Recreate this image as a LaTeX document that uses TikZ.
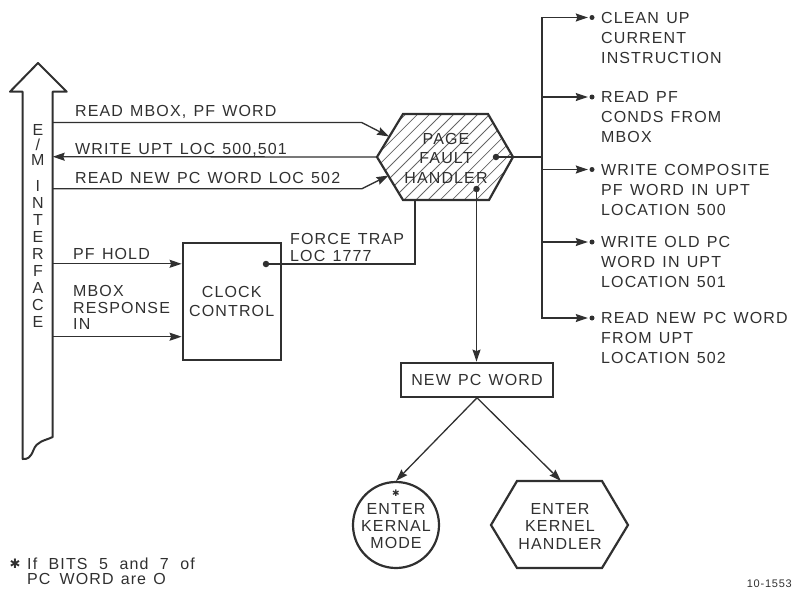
\documentclass[tikz,border=0pt]{standalone}
\usepackage{fontspec}
\setmainfont{Liberation Sans}
\newfontfamily\lf[LetterSpace=7,WordSpace=1.3]{Liberation Sans}
\newfontfamily\symf{DejaVu Sans}
\usetikzlibrary{arrows.meta,patterns.meta,calc}
\definecolor{ink}{HTML}{303030}
\newcommand\wsp{\hspace{11.5pt}}
\begin{document}
\begin{tikzpicture}[x=1pt,y=-1pt,
  conn/.style={draw=ink, line width=1.3pt},
  arr/.style={conn, -{Stealth[length=12pt,width=8pt,inset=1.5pt]}},
  shapeln/.style={draw=ink, line width=2.2pt, line join=miter},
  lbl/.style={font=\lf\fontsize{16}{20}\selectfont, text=ink, inner sep=0pt, align=left},
  lblc/.style={lbl, align=center},
  dot/.style={circle, fill=ink, inner sep=0pt, minimum size=6.5pt},
  bull/.style={circle, fill=ink, inner sep=0pt, minimum size=5pt},
]
\useasboundingbox (0,0) rectangle (795,592);

% ---------- E/M interface arrow ----------
\draw[draw=ink, line width=2pt, line join=round]
  (22.7,459) -- (22.7,91.7) -- (10,91.7) -- (38,63) -- (66.7,91.7) -- (52.7,91.7) -- (52.7,437)
  .. controls (44,441) and (37,441) .. (33.5,450)
  .. controls (30.5,458) and (27,459.5) .. (22.7,459) -- cycle;
\node[lblc, anchor=north, font=\lf\fontsize{16}{17}\selectfont] (emt) at (37.9,124.3)
  {E\\[-2pt]/\\[-2pt]M\\[9pt]I\\N\\T\\E\\R\\F\\A\\C\\E};
\coordinate (s1) at (52.7,122.5);
\coordinate (s2) at (52.7,156.7);
\coordinate (s3) at (52.7,188.8);
\coordinate (s4) at (52.7,263.8);
\coordinate (s5) at (52.7,336.7);

% ---------- page fault handler ----------
\coordinate (pfW) at (377,157);
\coordinate (pfNW) at (403,114);
\coordinate (pfNE) at (488,114);
\coordinate (pfE) at (513,157);
\coordinate (pfSE) at (489,200);
\coordinate (pfSW) at (403,200);
\fill[pattern={Lines[angle=45,distance=8.5pt,line width=0.8pt]}, pattern color=ink!75]
  (pfW) -- (pfNW) -- (pfNE) -- (pfE) -- (pfSE) -- (pfSW) -- cycle;
\draw[shapeln] (pfW) -- (pfNW) -- (pfNE) -- (pfE) -- (pfSE) -- (pfSW) -- cycle;
\node[lblc, font=\lf\fontsize{16}{19.5}\selectfont] (pfh) at (446,158) {PAGE\\FAULT\\HANDLER};
\coordinate (pfa1) at (389,136.5);
\coordinate (pfa2) at (388.5,175.5);
\coordinate (k1) at (361.7,122.5);
\coordinate (k2) at (361.7,188.8);
\coordinate (pfb) at (415,200);
\node[dot] (hdot) at (496,157) {};
\node[dot] (pdot) at (476.5,189) {};

% left connectors
\draw[arr] (s1) -- (k1) -- (pfa1);
\draw[arr] (pfW) -- (s2);
\draw[arr] (s3) -- (k2) -- (pfa2);
\node[lbl, anchor=base west] (l1) at (75,116.8) {READ MBOX, PF WORD};
\node[lbl, anchor=base west] (l2) at (75,154.8) {WRITE UPT LOC 500,501};
\node[lbl, anchor=base west] (l3) at (75,183.8) {READ NEW PC WORD LOC 502};

% ---------- clock control ----------
\node[shapeln, lblc, minimum width=98pt, minimum height=117pt, font=\lf\fontsize{16}{19}\selectfont]
  (clk) at (231.7,301.5) {CLOCK\\CONTROL};
\node[dot] (cdot) at (266,264) {};
\draw[arr] (s4) -- (s4 -| clk.west);
\draw[arr] (s5) -- (s5 -| clk.west);
\node[lbl, anchor=base west] (l4) at (73,259.5) {PF HOLD};
\node[lbl, anchor=north west, font=\lf\fontsize{16}{16.5}\selectfont] (l5) at (73,285.2) {MBOX\\RESPONSE\\IN};
\node[lbl, anchor=north west, font=\lf\fontsize{16}{17}\selectfont] (l6) at (290,232.7) {FORCE TRAP\\LOC 1777};
\draw[conn] (cdot) -| (pfb);

% ---------- right-hand list ----------
\coordinate (bj) at (542,157);
\draw[conn] (hdot) -- (bj);
\node[bull] (b1) at (592,17.5) {};
\node[bull] (b2) at (592,97) {};
\node[bull] (b3) at (592,169.5) {};
\node[bull] (b4) at (592,242) {};
\node[bull] (b5) at (592,318) {};
\foreach \b in {b1,b2,b3,b4,b5}
  \draw[arr, shorten >=1.5pt] (bj) |- (\b);
\node[lbl, anchor=north west] (r1) at (601,11.75) {CLEAN UP\\CURRENT\\INSTRUCTION};
\node[lbl, anchor=north west] (r2) at (601,91.25) {READ PF\\CONDS FROM\\MBOX};
\node[lbl, anchor=north west] (r3) at (601,163.75) {WRITE COMPOSITE\\PF WORD IN UPT\\LOCATION 500};
\node[lbl, anchor=north west] (r4) at (601,236.25) {WRITE OLD PC\\WORD IN UPT\\LOCATION 501};
\node[lbl, anchor=north west] (r5) at (601,312.25) {READ NEW PC WORD\\FROM UPT\\LOCATION 502};

% ---------- new PC word ----------
\node[shapeln, lblc, minimum width=152pt, minimum height=34pt] (npc) at (477,379.7) {NEW PC WORD};
\draw[arr] (pdot) -- (pdot |- npc.north);

\node[shapeln, circle, minimum size=86pt, inner sep=0pt] (ekm) at (396,525) {};
\node[text=ink, inner sep=0pt, font=\symf\fontsize{9}{9}\selectfont] (ekma) at (396,493) {✱};
\node[lblc, font=\lf\fontsize{16}{17}\selectfont] (ekmt) at (396,526.5) {ENTER\\KERNAL\\MODE};

\coordinate (ehW) at (491,525);
\coordinate (ehNW) at (517,481);
\coordinate (ehNE) at (602,481);
\coordinate (ehE) at (628,525);
\coordinate (ehSE) at (602,568);
\coordinate (ehSW) at (517,568);
\draw[shapeln] (ehW) -- (ehNW) -- (ehNE) -- (ehE) -- (ehSE) -- (ehSW) -- cycle;
\node[lblc, font=\lf\fontsize{16}{17.5}\selectfont] (ekh) at (560,526) {ENTER\\KERNEL\\HANDLER};
\coordinate (ehT) at (561,481);

\draw[arr] (npc.south) -- (ekm.north);
\draw[arr] (npc.south) -- (ehT);

% ---------- footnote ----------
\node[text=ink, inner sep=0pt, font=\symf\fontsize{13}{13}\selectfont] (ast) at (15,564) {✱};
\node[lbl, anchor=north west, font=\lf\fontsize{16}{15}\selectfont] (fn) at (27,558)
  {If\wsp{}BITS\wsp{}5\wsp{}and\wsp{}7\wsp{}of\\PC\hspace{9pt}WORD are O};
\node[lbl, anchor=base east, font=\lf\fontsize{11}{13}\selectfont] (id) at (792,587) {10-1553};
\end{tikzpicture}
\end{document}
